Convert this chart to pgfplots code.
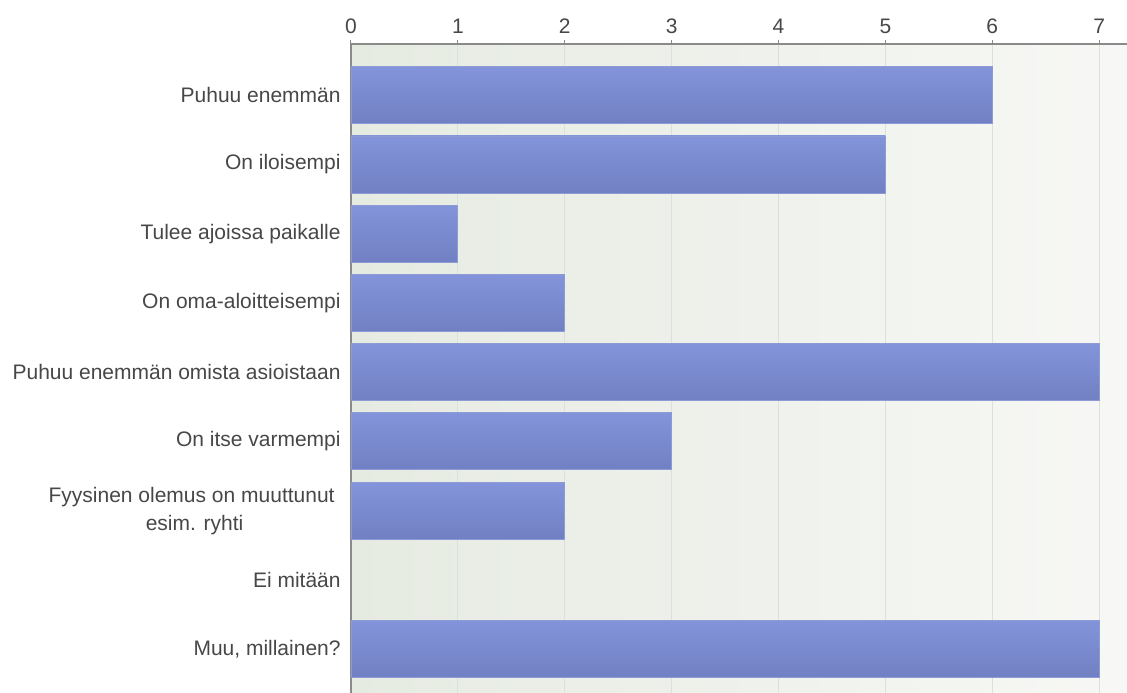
\documentclass[border=0pt]{standalone}
\usepackage{fontspec}
\setmainfont{Liberation Sans}
\usepackage{pgfplots}
\pgfplotsset{compat=1.18}
\definecolor{txt}{HTML}{474747}
\definecolor{barTop}{HTML}{8494DA}
\definecolor{barBot}{HTML}{7080C2}
\definecolor{barEdge}{HTML}{8E9AD6}
\definecolor{bgL}{HTML}{E6EBE2}
\definecolor{bgR}{HTML}{F7F8F5}
\definecolor{gridc}{HTML}{DCDFDA}
\definecolor{axc}{HTML}{8A8A8A}
\pgfplotsset{onebar/.style={xbar, bar width=28.5pt, bar shift=0pt, draw=barEdge, line width=0.4pt, top color=barTop, bottom color=barBot}}
\begin{document}
\begin{tikzpicture}
\begin{axis}[
  scale only axis,
  width=388pt, height=324.5pt,
  xmin=0, xmax=7.26,
  ymin=-0.74, ymax=8.635,
  y dir=reverse,
  axis x line*=top,
  axis y line*=left,
  axis line style={draw=axc, line width=0.6pt},
  xtick={0,1,2,3,4,5,6,7},
  ytick={0,1,2,3,4,5,6,7,8},
  yticklabels={Puhuu enemmän,On iloisempi,Tulee ajoissa paikalle,On oma-aloitteisempi,Puhuu enemmän omista asioistaan,On itse varmempi,{Fyysinen olemus on muuttunut\hspace*{3pt}\\esim. ryhti},Ei mitään,{Muu, millainen?}},
  yticklabel style={align=center, font=\fontsize{10.5}{14}\selectfont, text=txt, inner sep=0pt, xshift=-3pt},
  xticklabel style={font=\fontsize{10.5}{14}\selectfont, text=txt, inner sep=0pt, yshift=3pt},
  /pgf/number format/assume math mode=true,
  xmajorgrids,
  major grid style={draw=gridc, line width=0.5pt},
  x tick style={draw=axc, line width=0.5pt},
  y tick style={draw=none},
  major tick length=2pt,
  tick align=outside,
  axis background/.style={left color=bgL, right color=bgR},
  clip=false,
]
\addplot[onebar] coordinates {(6,0)};
\addplot[onebar] coordinates {(5,1)};
\addplot[onebar] coordinates {(1,2)};
\addplot[onebar] coordinates {(2,3)};
\addplot[onebar] coordinates {(7,4)};
\addplot[onebar] coordinates {(3,5)};
\addplot[onebar] coordinates {(2,6)};
\addplot[onebar] coordinates {(7,8)};
\end{axis}
\pgfresetboundingbox
\path[use as bounding box] ([xshift=-175.5pt]current axis.south west) rectangle ([yshift=22pt]current axis.north east);
\end{tikzpicture}
\end{document}
